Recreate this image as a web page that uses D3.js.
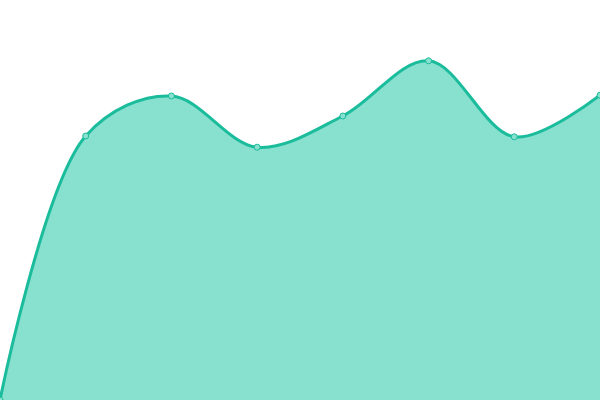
<!DOCTYPE html>
<html>
<head>
<meta charset="utf-8">
<script src="https://cdn.jsdelivr.net/npm/d3@7"></script>
<style>
  html, body { margin: 0; padding: 0; background: #fff; overflow: hidden; }
</style>
</head>
<body>
<div class="area-chart-container"></div>
<script>
// data
const categories = [0, 1, 2, 3, 4, 5, 6, 7];
const values = [0, 66, 76, 63.2, 71, 84.8, 65.8, 76.2];
const y_max = 100;

const svg_width = 600;
const svg_height = 400;

const this_svg = d3.select('.area-chart-container')
    .append('svg')
    .attr('width', svg_width)
    .attr('height', svg_height)
    .style('display', 'block');

// scales
const x_scale = d3.scaleLinear().domain(d3.extent(categories)).range([0, svg_width]);
const y_scale = d3.scaleLinear().domain([0, y_max]).range([svg_height, 0]);

const points = categories.map((c, i) => ({x: c, value: values[i]}));

// area + line (smooth, passes through the points)
const area_generator = d3.area()
    .x(d => x_scale(d.x))
    .y0(y_scale(0))
    .y1(d => y_scale(d.value))
    .curve(d3.curveCatmullRom);

const line_generator = d3.line()
    .x(d => x_scale(d.x))
    .y(d => y_scale(d.value))
    .curve(d3.curveCatmullRom);

this_svg.append('path')
    .datum(points)
    .attr('d', area_generator)
    .style('fill', '#88e0cf');

this_svg.append('path')
    .datum(points)
    .attr('d', line_generator)
    .style('fill', 'none')
    .style('stroke', '#1abc9c')
    .style('stroke-width', 3);

// markers
this_svg.selectAll('.dot')
    .data(points)
    .enter()
    .append('circle')
    .attr('class', 'dot')
    .attr('cx', d => x_scale(d.x))
    .attr('cy', d => y_scale(d.value))
    .attr('r', 3)
    .style('fill', '#88e0cf')
    .style('stroke', '#1abc9c')
    .style('stroke-width', 1);
</script>
</body>
</html>
